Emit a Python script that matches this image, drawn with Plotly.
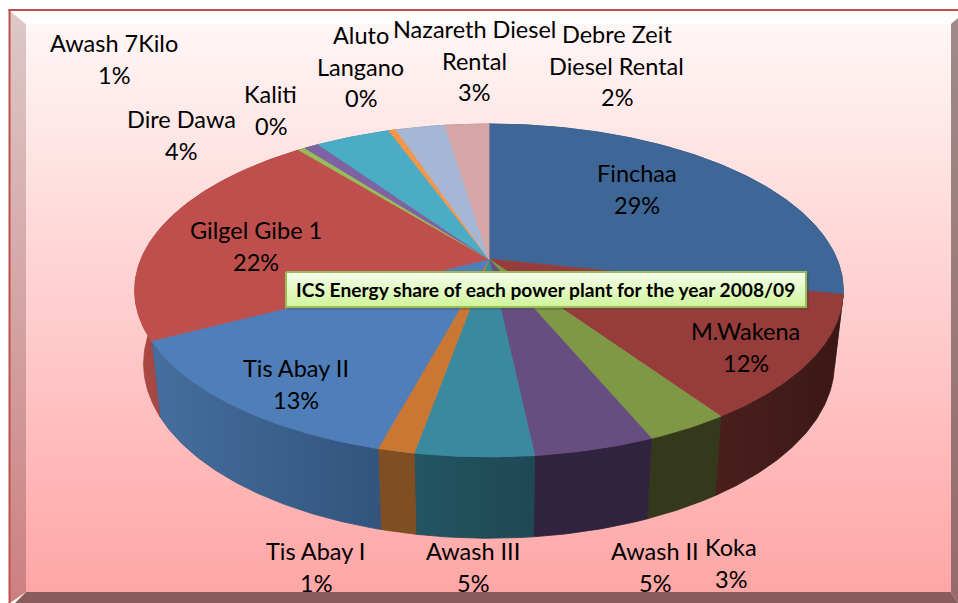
import math
import plotly.graph_objects as go

# ---- data ----
plants = ["Finchaa", "M.Wakena", "Koka", "Awash II", "Awash III", "Tis Abay I", "Tis Abay II",
          "Gilgel Gibe 1", "Kaliti", "Awash 7Kilo", "Dire Dawa", "Aluto Langano",
          "Nazareth Diesel Rental", "Debre Zeit Diesel Rental"]
shares = [28.4, 12.1, 3.2, 4.6, 4.5, 1.4, 13.1, 21.9, 0.4, 0.8, 4.1, 0.4, 2.7, 2.4]
pct_labels = ["29%", "12%", "3%", "5%", "5%", "1%", "13%", "22%", "0%", "1%", "4%", "0%", "3%", "2%"]
label_lines = [["Finchaa"], ["M.Wakena"], ["Koka"], ["Awash II"], ["Awash III"], ["Tis Abay I"],
               ["Tis Abay II"], ["Gilgel Gibe 1"], ["Kaliti"], ["Awash 7Kilo"], ["Dire Dawa"],
               ["Aluto", "Langano"], ["Nazareth Diesel", "Rental"], ["Debre Zeit", "Diesel Rental"]]
title_text = "ICS Energy share of each power plant for the year 2008/09"

# ---- styles ----
top_colors = ["#3E6797", "#963D3B", "#7E9845", "#664E80", "#3A8A9F", "#C97732", "#4F7EB8",
              "#BE4F4C", "#9ABB59", "#7F62A1", "#4BACC5", "#F79646", "#A6B7D5", "#D6A6A6"]
wall_colors = [("#2E4C70", "#2E4C70"), ("#4A1F1C", "#3A1815"), ("#33391A", "#33391A"),
               ("#2F233D", "#2F233D"), ("#235562", "#1F4855"), ("#7F4E22", "#7F4E22"),
               ("#456F9F", "#32547D"), ("#A84845", "#A34643"), ("#6E8A3C", "#6E8A3C"),
               ("#5A4573", "#5A4573"), ("#337B8C", "#337B8C"), ("#B06C30", "#B06C30"),
               ("#7A849A", "#7A849A"), ("#9A7878", "#9A7878")]
label_pos = [(636.5, 173), (745.5, 331), (730.5, 547), (654.5, 551), (472.5, 551), (315.5, 551),
             (295.5, 368), (255.5, 230), (270.5, 94), (113.5, 43), (181, 119), (360.5, 35),
             (474, 29), (616.5, 34)]
FONT = "Lato, Carlito, Calibri, sans-serif"
LABEL_SIZE = 23.5
LINE_GAP = 31.5

# ---- projection of the tilted disc ----
CX, CY = 489, 259
A, B, K = 347.9, 160.5, 0.189


def top_pt(theta):
    u, v = math.sin(theta), math.cos(theta)
    w = 1 + K * v
    return CX + A * u / w, CY - B * v / w


def bottom_pt(theta):
    x, y = top_pt(theta)
    return CX + 0.975 * (x - CX), 1.05 * y + 58.5


def arc(fn, a0, a1):
    n = max(2, int(abs(a1 - a0) / 0.01))
    return [fn(a0 + (a1 - a0) * i / n) for i in range(n + 1)]


def poly(name, pts, start=None, stop=None, kind="vertical", color=None, seam=None):
    xs = [p[0] for p in pts] + [pts[0][0]]
    ys = [p[1] for p in pts] + [pts[0][1]]
    t = dict(x=xs, y=ys, fill="toself", name=name, hoverinfo="name", showlegend=False)
    if seam:
        t["mode"] = "lines"
        t["line"] = dict(color=seam, width=0.8)
    else:
        t["mode"] = "none"
    if color:
        t["fillcolor"] = color
    else:
        t["fillgradient"] = dict(type=kind, colorscale=[[0, start], [1, stop]])
    return go.Scatter(**t)


fig = go.Figure()

# ---- frame ----
fig.add_trace(poly("panel", [(10, 11), (951, 11), (951, 592), (10, 592)], "#FFA6A6", "#FFF8F8"))
fig.add_trace(poly("bevel left", [(10, 11), (26, 24), (26, 592), (10, 603)], "#CC8080", "#DDC8C8"))
fig.add_trace(poly("bevel top", [(10, 11), (958, 11), (951, 24), (26, 24)], "#FFFFFF", "#FFF8F8"))
fig.add_trace(poly("bevel right", [(951, 24), (958, 18), (958, 603), (951, 592)], "#966A6A", "#A08A8A"))
fig.add_trace(poly("bevel bottom", [(26, 592), (951, 592), (958, 603), (15, 603)], color="#8A5C5C"))
fig.add_trace(poly("edge left", [(8.5, 9), (10.5, 9), (10.5, 603), (8.5, 603)], color="#C0504D"))
fig.add_trace(poly("edge top", [(8.5, 9), (958, 9), (958, 11), (8.5, 11)], color="#C0504D"))

# ---- pie ----
total = sum(shares)
angles = [0.0]
for s in shares:
    angles.append(angles[-1] + s / total * 2 * math.pi)

for i, name in enumerate(plants):
    a0, a1 = angles[i], angles[i + 1]
    pts = arc(top_pt, a0, a1) + arc(bottom_pt, a1, a0)
    fig.add_trace(poly(name + " side", pts, wall_colors[i][0], wall_colors[i][1], "horizontal",
                       seam=wall_colors[i][1]))

for i, name in enumerate(plants):
    pts = [(CX, CY)] + arc(top_pt, angles[i], angles[i + 1])
    fig.add_trace(poly(name, pts, color=top_colors[i], seam=top_colors[i]))

# ---- title box ----
fig.add_trace(poly("title shadow", [(288, 275), (809, 275), (809, 310), (288, 310)], color="rgba(70,70,70,0.30)"))
fig.add_trace(poly("title box", [(286, 272), (806, 272), (806, 307), (286, 307)], "#CFF59A", "#F6FEEC"))
fig.add_trace(go.Scatter(x=[286, 806, 806, 286, 286], y=[272, 272, 307, 307, 272], mode="lines",
                         line=dict(color="#9BBB59", width=2), hoverinfo="skip", showlegend=False))

annotations = []
for i, lines in enumerate(label_lines):
    x, y = label_pos[i]
    for j, line in enumerate(lines + [pct_labels[i]]):
        annotations.append(dict(x=x, y=y + j * LINE_GAP, text=line, showarrow=False, xanchor="center",
                                yanchor="middle", font=dict(family=FONT, size=LABEL_SIZE, color="#000000")))
annotations.append(dict(x=545, y=289, text="<b>" + title_text + "</b>", showarrow=False, xanchor="center",
                        yanchor="middle", font=dict(family=FONT, size=19.2, color="#000000")))

fig.update_layout(
    width=958, height=603, margin=dict(l=0, r=0, t=0, b=0),
    paper_bgcolor="#FFFFFF", plot_bgcolor="#FFFFFF", showlegend=False,
    xaxis=dict(range=[0, 958], visible=False, fixedrange=True),
    yaxis=dict(range=[603, 0], visible=False, fixedrange=True),
    annotations=annotations,
)
fig.write_html("out.html", config={"displayModeBar": False},
               post_script="document.body.style.margin='0';document.body.style.overflow='hidden';")
